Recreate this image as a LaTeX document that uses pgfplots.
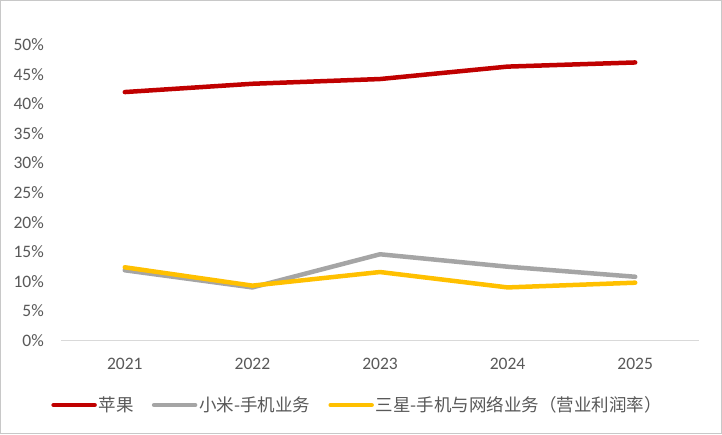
\documentclass[border=0pt]{standalone}
\usepackage{pgfplots}
\pgfplotsset{compat=1.18}
\usepackage{fontspec}
\setmainfont{Carlito}
\newfontfamily\cjk{Noto Sans CJK SC}
\definecolor{applered}{RGB}{192,0,0}
\definecolor{migray}{RGB}{165,165,165}
\definecolor{samyellow}{RGB}{255,192,0}
\definecolor{ticktext}{RGB}{89,89,89}
\definecolor{axisgray}{RGB}{217,217,217}
\definecolor{bordergray}{RGB}{200,200,200}
\begin{document}
\begin{tikzpicture}[x=1pt,y=1pt]
\draw[color=bordergray, line width=1pt, fill=white] (0.5,0.5) rectangle (721.5,433.5);
\begin{axis}[
  at={(61pt,93.3pt)}, anchor=south west,
  scale only axis, width=638pt, height=296pt,
  xmin=-0.5, xmax=4.5, ymin=0, ymax=0.5,
  separate axis lines,
  axis x line*=bottom, axis y line*=left,
  y axis line style={draw=none},
  x axis line style={draw=axisgray, line width=1pt},
  major tick length=0pt,
  xtick={0,1,2,3,4},
  xticklabels={2021,2022,2023,2024,2025},
  ytick={0,0.05,0.1,0.15,0.2,0.25,0.3,0.35,0.4,0.45,0.5},
  yticklabels={0\%,5\%,10\%,15\%,20\%,25\%,30\%,35\%,40\%,45\%,50\%},
  tick label style={font=\fontsize{17.5}{20}\selectfont, text=ticktext},
  yticklabel style={inner sep=0pt, xshift=-17pt},
  xticklabel style={inner sep=0pt, yshift=-17pt},
  legend columns=3,
  legend style={at={(axis description cs:0.4650,-0.2172)}, anchor=center, draw=none, fill=none,
    font=\cjk\fontsize{17.5}{20}\selectfont, text=ticktext,
    nodes={inner sep=2pt},
    /tikz/every even column/.append style={column sep=16pt}},
  legend cell align=left,
  legend image code/.code={\draw[#1, line width=4.5pt, line cap=round] (0pt,0pt) -- (41pt,0pt);},
]
\addplot[applered, line width=4.5pt, line cap=round, line join=round] coordinates {(0,0.420) (1,0.434) (2,0.442) (3,0.463) (4,0.470)};
\addlegendentry{苹果}
\addplot[migray, line width=4.5pt, line cap=round, line join=round] coordinates {(0,0.119) (1,0.090) (2,0.146) (3,0.125) (4,0.108)};
\addlegendentry{小米-手机业务}
\addplot[samyellow, line width=4.5pt, line cap=round, line join=round] coordinates {(0,0.124) (1,0.093) (2,0.116) (3,0.090) (4,0.098)};
\addlegendentry{三星-手机与网络业务（营业利润率）}
\end{axis}
\end{tikzpicture}
\end{document}
